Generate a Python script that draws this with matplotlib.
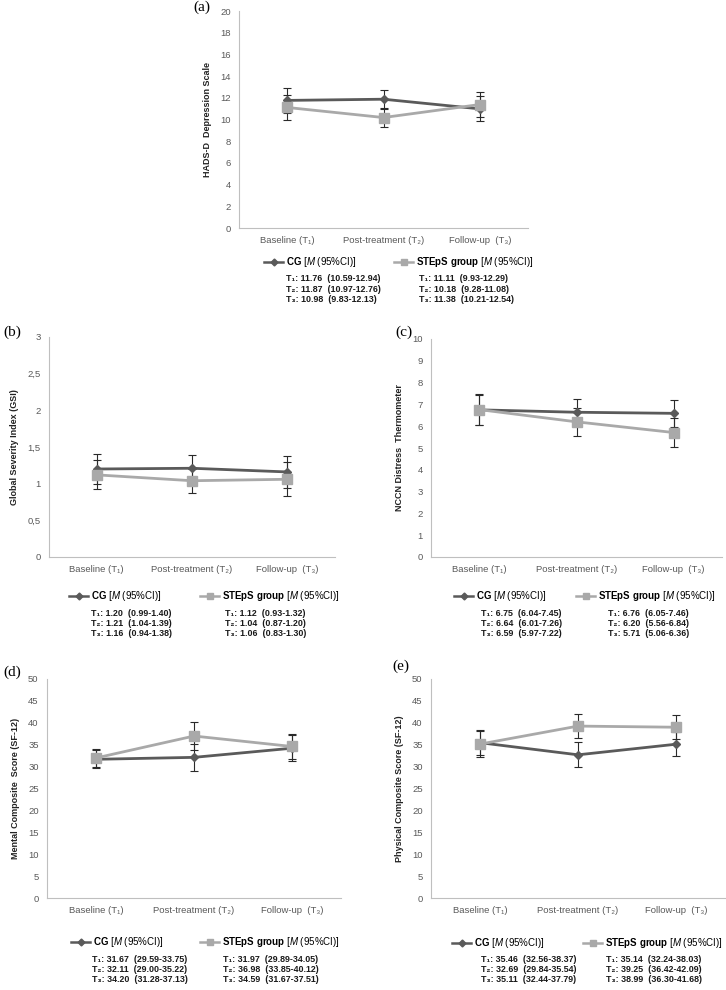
import matplotlib
matplotlib.use('Agg')
import matplotlib.pyplot as plt
from matplotlib.lines import Line2D
from matplotlib.ticker import FuncFormatter

plt.rcParams['font.family'] = ['Liberation Sans', 'DejaVu Sans']
plt.rcParams['mathtext.fontset'] = 'custom'
plt.rcParams['mathtext.rm'] = 'Liberation Sans'
plt.rcParams['mathtext.it'] = 'Liberation Sans:italic'
plt.rcParams['mathtext.bf'] = 'Liberation Sans:bold'

# categories
cats = ['Baseline (T₁)', 'Post-treatment (T₂)', 'Follow-up  (T₃)']
subs = ['₁', '₂', '₃']

# (a) HADS-D
hads_cg = [11.76, 11.87, 10.98]
hads_cg_lo = [10.59, 10.97, 9.83]
hads_cg_hi = [12.94, 12.76, 12.13]
hads_st = [11.11, 10.18, 11.38]
hads_st_lo = [9.93, 9.28, 10.21]
hads_st_hi = [12.29, 11.08, 12.54]

# (b) GSI
gsi_cg = [1.20, 1.21, 1.16]
gsi_cg_lo = [0.99, 1.04, 0.94]
gsi_cg_hi = [1.40, 1.39, 1.38]
gsi_st = [1.12, 1.04, 1.06]
gsi_st_lo = [0.93, 0.87, 0.83]
gsi_st_hi = [1.32, 1.20, 1.30]

# (c) NCCN
nccn_cg = [6.75, 6.64, 6.59]
nccn_cg_lo = [6.04, 6.01, 5.97]
nccn_cg_hi = [7.45, 7.26, 7.22]
nccn_st = [6.76, 6.20, 5.71]
nccn_st_lo = [6.05, 5.56, 5.06]
nccn_st_hi = [7.46, 6.84, 6.36]

# (d) MCS
mcs_cg = [31.67, 32.11, 34.20]
mcs_cg_lo = [29.59, 29.00, 31.28]
mcs_cg_hi = [33.75, 35.22, 37.13]
mcs_st = [31.97, 36.98, 34.59]
mcs_st_lo = [29.89, 33.85, 31.67]
mcs_st_hi = [34.05, 40.12, 37.51]

# (e) PCS
pcs_cg = [35.46, 32.69, 35.11]
pcs_cg_lo = [32.56, 29.84, 32.44]
pcs_cg_hi = [38.37, 35.54, 37.79]
pcs_st = [35.14, 39.25, 38.99]
pcs_st_lo = [32.24, 36.42, 36.30]
pcs_st_hi = [38.03, 42.09, 41.68]

W, H = 726, 990
DARK = '#5a5a5a'
LIGHT = '#a9a9a9'

fig = plt.figure(figsize=(W / 100, H / 100), dpi=100)


def px(x, y):
    return x / W, 1 - y / H


def panel(box, letter, lpos, ylabel, ymax, ystep, cg, cg_lo, cg_hi, st, st_lo, st_hi,
          leg, comma=False):
    l, t, r, b = box
    ax = fig.add_axes([l / W, 1 - b / H, (r - l) / W, (b - t) / H])
    xs = range(len(cats))
    for m, lo, hi in [(cg, cg_lo, cg_hi), (st, st_lo, st_hi)]:
        err = [[v - a for v, a in zip(m, lo)], [c - v for v, c in zip(m, hi)]]
        ax.errorbar(xs, m, yerr=err, fmt='none', ecolor='#2a2a2a', elinewidth=0.8,
                    capsize=3, capthick=0.8, zorder=2)
    ax.plot(xs, cg, color=DARK, lw=2, marker='D', ms=4.5, zorder=3)
    ax.plot(xs, st, color=LIGHT, lw=2, marker='s', ms=7, zorder=4)
    ax.set_xlim(-0.5, 2.5)
    ax.set_ylim(0, ymax)
    ticks = []
    v = 0
    while v <= ymax + 1e-9:
        ticks.append(v)
        v += ystep
    ax.set_yticks(ticks)
    if comma:
        ax.yaxis.set_major_formatter(FuncFormatter(lambda v, p: ('%g' % v).replace('.', ',')))
    ax.set_xticks(list(xs))
    ax.set_xticklabels(cats)
    ax.tick_params(length=0, labelsize=6.8, labelcolor='#595959', pad=6)
    for s in ['top', 'right']:
        ax.spines[s].set_visible(False)
    for s in ['left', 'bottom']:
        ax.spines[s].set_color('#bfbfbf')
        ax.spines[s].set_linewidth(0.8)
    ax.set_ylabel(ylabel, fontsize=6.5, fontweight='bold', color='#222222', labelpad=6)
    fig.text(*px(*lpos), letter, family='Liberation Serif', fontsize=11, va='center', ha='left')

    # legend block
    hy, c1, c2, r1, r2 = leg
    for x0, col, mk, ms in [(c1, DARK, 'D', 3.5), (c2, LIGHT, 's', 5)]:
        fig.add_artist(Line2D([(x0 - 22) / W, (x0 - 3) / W], [1 - hy / H] * 2,
                              color=col, lw=1.8, transform=fig.transFigure))
        fig.add_artist(Line2D([(x0 - 12.5) / W], [1 - hy / H], color=col, marker=mk, ms=ms,
                              transform=fig.transFigure))
    fig.text(*px(c1, hy), r'$\mathbf{CG}$ [$\mathit{M}$ (95%CI)]', fontsize=7, va='center')
    fig.text(*px(c2, hy), r'$\mathbf{STEpS\ group}$ [$\mathit{M}$ (95%CI)]', fontsize=7,
             va='center')
    for i in range(3):
        yy = hy + 17 + i * 10
        fig.text(*px(r1, yy), 'T%s: %.2f  (%.2f-%.2f)' % (subs[i], cg[i], cg_lo[i], cg_hi[i]),
                 fontsize=6.4, fontweight='bold', va='center', color='#1a1a1a')
        fig.text(*px(r2, yy), 'T%s: %.2f  (%.2f-%.2f)' % (subs[i], st[i], st_lo[i], st_hi[i]),
                 fontsize=6.4, fontweight='bold', va='center', color='#1a1a1a')
    return ax


panel((239, 11, 528, 228), '(a)', (193, 7), 'HADS-D  Depression Scale', 20, 2,
      hads_cg, hads_cg_lo, hads_cg_hi, hads_st, hads_st_lo, hads_st_hi,
      (262, 286, 416, 286, 419))
panel((49, 337, 335, 557), '(b)', (3, 332), 'Global Severity Index (GSI)', 3, 0.5,
      gsi_cg, gsi_cg_lo, gsi_cg_hi, gsi_st, gsi_st_lo, gsi_st_hi,
      (596, 91, 222, 91, 225), comma=True)
panel((431, 339, 722, 557), '(c)', (395, 332), 'NCCN Distress  Thermometer', 10, 1,
      nccn_cg, nccn_cg_lo, nccn_cg_hi, nccn_st, nccn_st_lo, nccn_st_hi,
      (596, 476, 598, 481, 608))
panel((47, 679, 341, 898), '(d)', (3, 672), 'Mental Composite  Score (SF-12)', 50, 5,
      mcs_cg, mcs_cg_lo, mcs_cg_hi, mcs_st, mcs_st_lo, mcs_st_hi,
      (942, 93, 222, 92, 223))
panel((431, 679, 725, 898), '(e)', (392, 666), 'Physical Composite Score (SF-12)', 50, 5,
      pcs_cg, pcs_cg_lo, pcs_cg_hi, pcs_st, pcs_st_lo, pcs_st_hi,
      (943, 474, 605, 481, 606))

fig.savefig('out.png', dpi=100)
